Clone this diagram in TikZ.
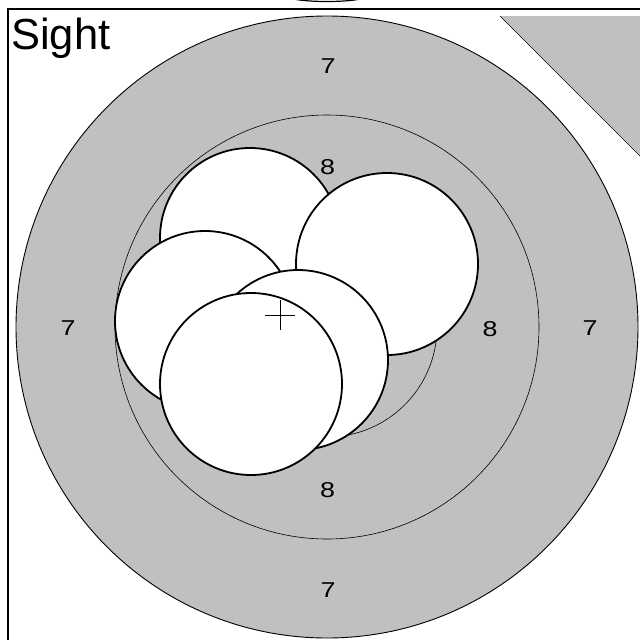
\documentclass[tikz,border=0pt]{standalone}
\usepackage{fontspec}
\setmainfont{Liberation Sans}
\definecolor{tgrey}{RGB}{192,192,192}
\newcommand{\widedigit}[1]{\scalebox{1.25}[1]{#1}}
\begin{document}
\begin{tikzpicture}[x=1pt,y=-1pt,
  ring/.style={draw=black,line width=0.6pt},
  shot/.style={draw=black,fill=white,line width=1.8pt},
  lbl/.style={font=\fontsize{21.5}{21.5}\selectfont,inner sep=0pt}]
\useasboundingbox (0,0) rectangle (640,640);
\clip (0,0) rectangle (640,640);
% frame
\draw[line width=1.2pt] (8,700) -- (8,9) -- (700,9);
\draw[line width=1.2pt] (327,-4) ellipse [x radius=40pt, y radius=5.5pt];
% top-right grey area
\fill[tgrey] (500,16) -- (660,16) -- (660,175) -- cycle;
\draw[line width=0.7pt] (500,16) -- (660,176);
% target
\draw[fill=tgrey,line width=0.9pt] (327,327) circle (311pt);
\draw[ring] (327,327) circle (212pt);
\draw[ring] (327,327) circle (110pt);
% labels
\node[lbl] (t7n) at (328,66.5) {\widedigit{7}};
\node[lbl] (t7w) at (68,328.5) {\widedigit{7}};
\node[lbl] (t7e) at (590,328.5) {\widedigit{7}};
\node[lbl] (t7s) at (328,590) {\widedigit{7}};
\node[lbl] (t8n) at (327.5,167) {\widedigit{8}};
\node[lbl] (t8e) at (490,329) {\widedigit{8}};
\node[lbl] (t8s) at (327.5,490) {\widedigit{8}};
% shots
\draw[shot] (250,238) circle (90pt);
\draw[shot] (387,264) circle (91pt);
\draw[shot] (205,321) circle (90pt);
\draw[shot] (298,360) circle (90pt);
\draw[shot] (251,384) circle (91pt);
% cross
\draw[line width=0.8pt] (265,315) -- (295,315) (280,300) -- (280,330);
% title
\node[anchor=base west,inner sep=0pt,font=\fontsize{43.5}{43.5}\selectfont] (title) at (11,49) {Sight};
\end{tikzpicture}
\end{document}
